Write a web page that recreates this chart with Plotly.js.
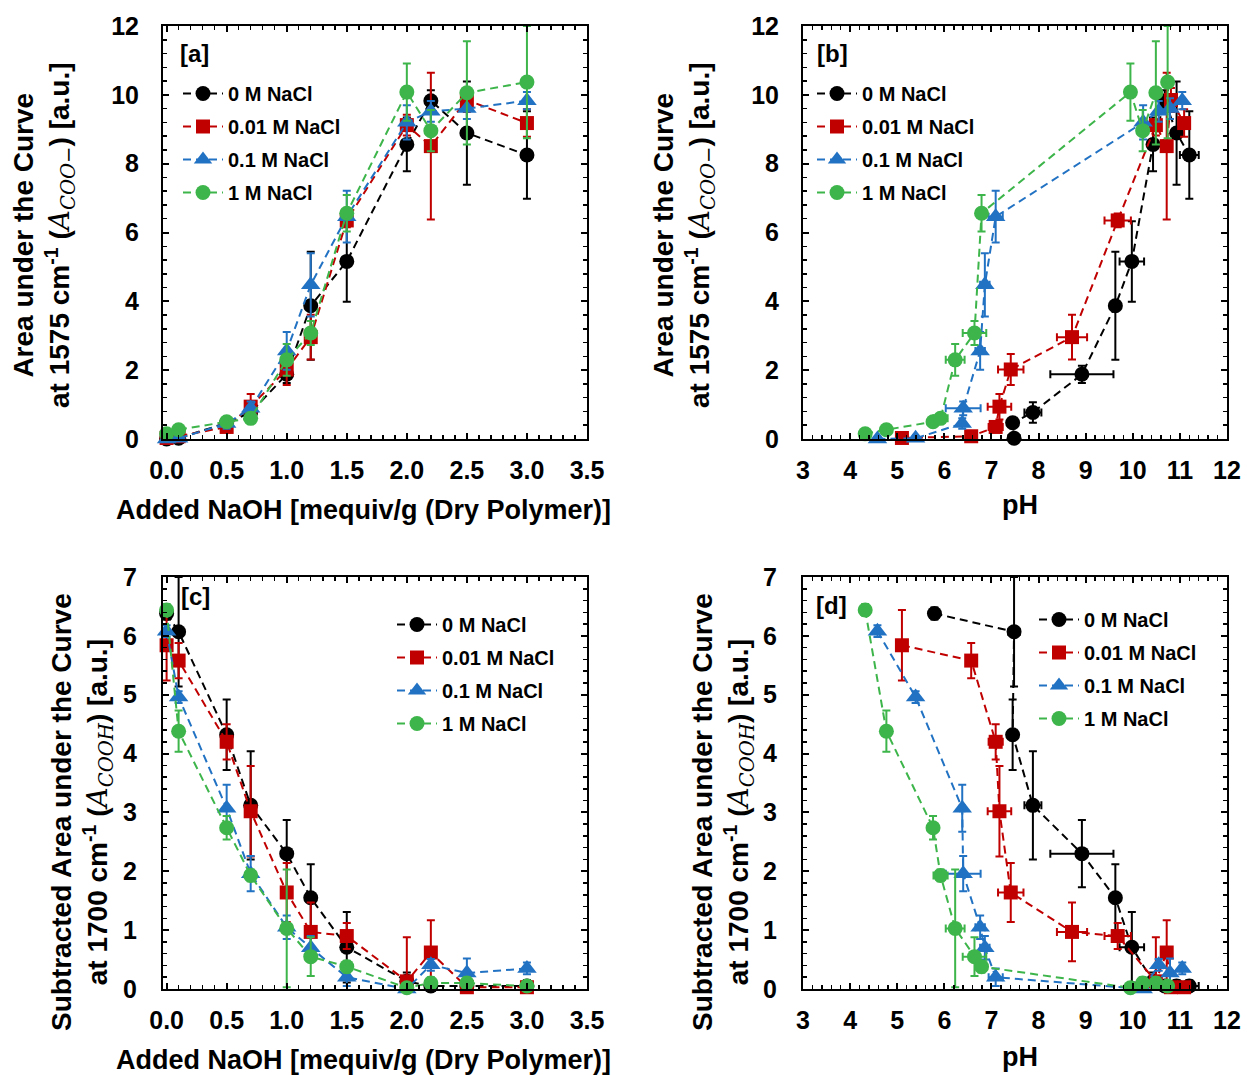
<!DOCTYPE html>
<html><head><meta charset="utf-8">
<script src="https://cdn.plot.ly/plotly-3.0.1.min.js"></script>
<style>html,body{margin:0;padding:0;background:#fff;}#chart{width:1247px;height:1075px;}</style>
</head><body><div id="chart"></div>
<script>
// ---- data ----
const NaOH = [0, 0.1, 0.5, 0.7, 1.0, 1.2, 1.5, 2.0, 2.2, 2.5, 3.0];
const seriesNames = ['0 M NaCl', '0.01 M NaCl', '0.1 M NaCl', '1 M NaCl'];

// 0 M NaCl
const pH_0 = [5.79, 7.48, 7.45, 7.88, 8.92, 9.63, 9.98, 10.43, 10.68, 10.93, 11.2];
const pHerr_0 = [0.1, 0.12, 0.1, 0.18, 0.67, 0.1, 0.26, 0.1, 0.1, 0.1, 0.2];
const coo_0 = [0.0, 0.02, 0.47, 0.77, 1.88, 3.87, 5.16, 8.56, 9.83, 8.89, 8.25];
const cooErr_0 = [0.05, 0.05, 0.1, 0.3, 0.25, 1.57, 1.17, 0.78, 0.3, 1.5, 1.27];
const cooh_0 = [6.38, 6.07, 4.32, 3.12, 2.3, 1.55, 0.71, 0.13, 0.05, 0.05, 0.05];
const coohErr_0 = [0.1, 0.93, 0.6, 0.92, 0.57, 0.57, 0.6, 0.15, 0.1, 0.1, 0.1];

// 0.01 M NaCl
const pH_001 = [5.1, 6.57, 7.09, 7.17, 7.41, 8.71, 9.68, 10.49, 10.72, 10.81, 11.09];
const pHerr_001 = [0.05, 0.1, 0.15, 0.25, 0.27, 0.32, 0.28, 0.05, 0.05, 0.1, 0.1];
const coo_001 = [0.03, 0.08, 0.35, 0.94, 2.02, 2.96, 6.35, 9.12, 8.51, 9.85, 9.18];
const cooErr_001 = [0.05, 0.05, 0.1, 0.37, 0.45, 0.65, 0.2, 0.3, 2.13, 0.35, 0.4];
const cooh_001 = [5.84, 5.58, 4.2, 3.02, 1.64, 0.97, 0.9, 0.13, 0.62, 0.03, 0.03];
const coohErr_001 = [0.6, 0.3, 0.3, 0.77, 0.5, 0.5, 0.22, 0.75, 0.55, 0.05, 0.05];

// 0.1 M NaCl
const pH_01 = [4.58, 5.39, 6.38, 6.4, 6.76, 6.86, 7.09, 10.22, 10.55, 10.79, 11.05];
const pHerr_01 = [0.05, 0.05, 0.05, 0.37, 0.1, 0.1, 0.15, 0.05, 0.05, 0.05, 0.05];
const coo_01 = [0.0, 0.02, 0.45, 0.89, 2.56, 4.48, 6.46, 9.2, 9.52, 9.6, 9.83];
const cooErr_01 = [0.05, 0.05, 0.15, 0.2, 0.55, 0.92, 0.75, 0.5, 0.3, 0.3, 0.25];
const cooh_01 = [6.08, 4.96, 3.07, 1.96, 1.05, 0.7, 0.2, 0.0, 0.41, 0.27, 0.35];
const coohErr_01 = [0.1, 0.1, 0.4, 0.3, 0.2, 0.2, 0.15, 0.05, 0.1, 0.25, 0.1];

// 1 M NaCl
const pH_1 = [4.32, 4.77, 5.76, 5.92, 6.23, 6.64, 6.79, 9.95, 10.21, 10.49, 10.74];
const pHerr_1 = [0.05, 0.05, 0.1, 0.15, 0.2, 0.25, 0.1, 0.05, 0.05, 0.05, 0.05];
const coo_1 = [0.15, 0.27, 0.5, 0.6, 2.3, 3.08, 6.56, 10.08, 8.96, 10.06, 10.37];
const cooErr_1 = [0.05, 0.05, 0.1, 0.1, 0.46, 0.35, 0.53, 0.83, 0.6, 1.5, 1.63];
const cooh_1 = [6.44, 4.38, 2.74, 1.93, 1.03, 0.55, 0.38, 0.02, 0.1, 0.1, 0.05];
const coohErr_1 = [0.1, 0.35, 0.2, 0.1, 1.0, 0.33, 0.1, 0.05, 0.1, 0.1, 0.05];

// ---- styling ----
const colors = ['#000000', '#C00000', '#2272C3', '#3DB54A'];
const symbols = ['circle', 'square', 'triangle-up', 'circle'];
const sizes = [15, 14, 17, 15];
const FONT = 'Arial, "Liberation Sans", sans-serif';

const S = [
  {pH: pH_0, pHe: pHerr_0, coo: coo_0, cooe: cooErr_0, cooh: cooh_0, coohe: coohErr_0},
  {pH: pH_001, pHe: pHerr_001, coo: coo_001, cooe: cooErr_001, cooh: cooh_001, coohe: coohErr_001},
  {pH: pH_01, pHe: pHerr_01, coo: coo_01, cooe: cooErr_01, cooh: cooh_01, coohe: coohErr_01},
  {pH: pH_1, pHe: pHerr_1, coo: coo_1, cooe: cooErr_1, cooh: cooh_1, coohe: coohErr_1}
];

function mk(i, x, y, ey, ex, xa, ya, leg) {
  const t = {
    type: 'scatter', mode: 'lines+markers', name: seriesNames[i],
    x: x, y: y, xaxis: xa, yaxis: ya, legend: leg, legendgroup: leg + '_' + i, cliponaxis: false,
    line: {color: colors[i], width: 2, dash: '8px,5px'},
    marker: {color: colors[i], symbol: symbols[i], size: sizes[i]},
    error_y: {type: 'data', array: ey, visible: true, color: colors[i], thickness: 2, width: 4}
  };
  if (ex) t.error_x = {type: 'data', array: ex, visible: true, color: colors[i], thickness: 2, width: 4};
  return t;
}

const traces = [];
// panel a
S.forEach((s, i) => traces.push(mk(i, NaOH, s.coo, s.cooe, null, 'x', 'y', 'legend')));
// panel b (0 M series: starting NaOH point not shown)
S.forEach((s, i) => {
  const k = i === 0 ? 1 : 0;
  traces.push(mk(i, s.pH.slice(k), s.coo.slice(k), s.cooe.slice(k), s.pHe.slice(k), 'x2', 'y2', 'legend2'));
});
// panel c
S.forEach((s, i) => traces.push(mk(i, NaOH, s.cooh, s.coohe, null, 'x3', 'y3', 'legend3')));
// panel d
S.forEach((s, i) => traces.push(mk(i, s.pH, s.cooh, s.coohe, s.pHe, 'x4', 'y4', 'legend4')));

const W = 1247, H = 1075;
const px = v => v / W, py = v => 1 - v / H;

function axis(domain, range, dtick, minorDtick, fmt, anchor, standoff) {
  return {
    domain: domain, range: range, anchor: anchor, dtick: dtick, tick0: 0,
    tickformat: fmt, showgrid: false, zeroline: false,
    showline: true, linecolor: '#000', linewidth: 2, mirror: 'allticks',
    ticks: 'inside', ticklen: 6, tickwidth: 2, tickcolor: '#000',
    minor: {ticks: 'inside', ticklen: 4, tickwidth: 1.5, dtick: minorDtick, tick0: 0, tickcolor: '#000', showgrid: false},
    tickfont: {family: FONT, size: 25, color: '#000', weight: 'bold'},
    ticklabelstandoff: standoff, fixedrange: true
  };
}

const xL = [px(163), px(587)], xR = [px(803), px(1227)];
const yT = [py(439), py(26)], yB = [py(989), py(577)];

function legend(x, y) {
  return {x: x, y: y, xanchor: 'left', yanchor: 'top', bgcolor: 'rgba(0,0,0,0)',
          font: {family: FONT, size: 20, color: '#000', weight: 'bold'}, itemwidth: 40,
          tracegroupgap: 4};
}

const serif = "font-family:'DejaVu Serif','Liberation Serif',serif;font-weight:normal";
const yTitleTop = 'Area under the Curve<br>at 1575 cm<sup>-1</sup> (<span style="' + serif + '"><i>A</i><sub><i>COO</i>−</sub></span>) [a.u.]';
const yTitleBot = 'Subtracted Area under the Curve<br>at 1700 cm<sup>-1</sup> (<span style="' + serif + '"><i>A</i><sub><i>COOH</i></sub></span>) [a.u.]';
const xTitleNaOH = 'Added NaOH [mequiv/g (Dry Polymer)]';

function ann(text, x, y, size, angle) {
  return {text: text, x: x, y: y, xref: 'paper', yref: 'paper', xanchor: 'center', yanchor: 'middle',
          showarrow: false, textangle: angle || 0,
          font: {family: FONT, size: size, color: '#000', weight: 'bold'}};
}

const layout = {
  width: W, height: H, margin: {l: 0, r: 0, t: 0, b: 0},
  paper_bgcolor: '#fff', plot_bgcolor: '#fff', showlegend: true,
  xaxis: axis(xL, [-0.03, 3.5], 0.5, 0.1, '.1f', 'y', 8),
  yaxis: axis(yT, [0, 12], 2, 0.4, 'd', 'x', 17),
  xaxis2: axis(xR, [3, 12], 1, 0.2, 'd', 'y2', 8),
  yaxis2: axis(yT, [0, 12], 2, 0.4, 'd', 'x2', 17),
  xaxis3: axis(xL, [-0.03, 3.5], 0.5, 0.1, '.1f', 'y3', 8),
  yaxis3: axis(yB, [0, 7], 1, 0.2, 'd', 'x3', 19),
  xaxis4: axis(xR, [3, 12], 1, 0.2, 'd', 'y4', 8),
  yaxis4: axis(yB, [0, 7], 1, 0.2, 'd', 'x4', 19),
  legend: legend(px(178), py(74)),
  legend2: legend(px(812), py(74)),
  legend3: legend(px(392), py(605)),
  legend4: legend(px(1034), py(600)),
  annotations: [
    ann('[a]', px(194), py(54), 24),
    ann('[b]', px(832), py(54), 24),
    ann('[c]', px(195), py(596), 24),
    ann('[d]', px(831), py(605), 24),
    ann(xTitleNaOH, px(363), py(510), 27),
    ann('pH', px(1020), py(505), 27),
    ann(xTitleNaOH, px(363), py(1060), 27),
    ann('pH', px(1020), py(1057), 27),
    ann(yTitleTop, px(44), py(235), 28, -90),
    ann(yTitleTop, px(684), py(235), 28, -90),
    ann(yTitleBot, px(82), py(812), 28, -90),
    ann(yTitleBot, px(723), py(812), 28, -90)
  ]
};

Plotly.newPlot('chart', traces, layout, {staticPlot: true, displayModeBar: false});
</script></body></html>
